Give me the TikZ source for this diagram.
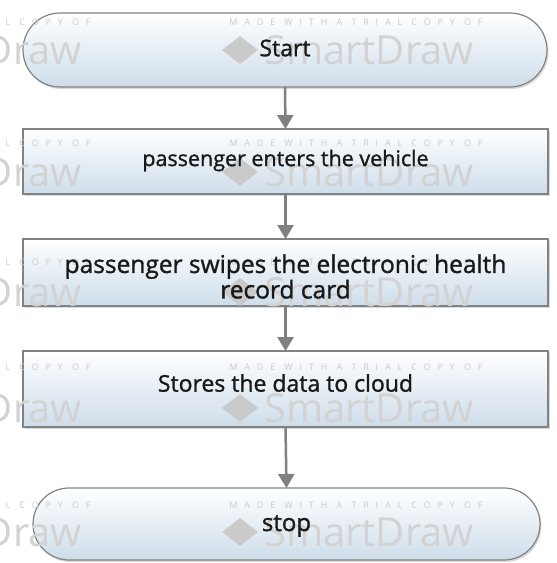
\documentclass[tikz,border=0pt]{standalone}
\usepackage{fontspec}
\setmainfont{Open Sans}
\newfontfamily\wmfont[LetterSpace=76]{Open Sans}
\newfontfamily\labfont[FakeBold=1.2]{Open Sans}
\usetikzlibrary{shadows,arrows.meta}
\definecolor{boxblue}{RGB}{206,221,234}
\definecolor{edgegray}{RGB}{130,130,130}
\definecolor{arrowgray}{RGB}{128,128,128}
\definecolor{wmgray}{RGB}{202,202,202}
\definecolor{txt}{RGB}{25,25,25}
\begin{document}
\begin{tikzpicture}[x=1pt,y=-1pt,
  shapebase/.style={draw=edgegray, line width=1.2pt, top color=white, bottom color=boxblue,
    drop shadow={shadow xshift=1.5pt, shadow yshift=-2pt, opacity=0.3},
    inner sep=0pt, outer sep=0pt},
  terminal/.style={shapebase, minimum height=#1, rounded corners=0.5*#1},
  procbox/.style={shapebase, minimum height=#1},
  label/.style={font=\labfont\fontsize{#1}{24}\selectfont, text=txt, align=center, inner sep=0pt},
  wmsmall/.style={font=\wmfont\fontsize{9}{10}\selectfont, text=wmgray, inner sep=0pt},
  wmbig/.style={font=\fontsize{40}{44}\selectfont, text=wmgray!85, inner sep=0pt},
  conn/.style={draw=arrowgray, line width=2.5pt, -{Triangle[width=16pt,length=14pt]}}
]
\useasboundingbox (0,0) rectangle (557,563);

% shapes
\node[terminal=74pt, minimum width=524pt] (start) at (285,50) {};
\node[procbox=65pt, minimum width=525pt] (enter) at (285.5,161.5) {};
\node[procbox=67pt, minimum width=525pt] (swipe) at (285.5,272.5) {};
\node[procbox=76pt, minimum width=525pt] (store) at (285.5,389) {};
\node[terminal=72pt, minimum width=507pt] (stop) at (286.5,524) {};

% watermark
\begin{scope}
\clip (0,0) rectangle (557,563);
\foreach \ys/\yb in {22/50, 143/172, 262/292, 367/408, 505/532}{
  \foreach \dx in {0,-392}{
    \node[wmsmall] at (356+\dx,\ys) {MADE WITH A TRIAL COPY OF};
    \node[wmbig] at (369+\dx,\yb) {SmartDraw};
    \fill[wmgray] (222+\dx,\yb) -- (240+\dx,\yb-14) -- (258+\dx,\yb) -- (240+\dx,\yb+14) -- cycle;
  }
}
\end{scope}

% labels
\node[label=23] (startL) at ([yshift=2pt]start.center) {Start};
\node[label=21.5] (enterL) at ([yshift=1pt]enter.center) {passenger enters the vehicle};
\node[label=24.5] (swipeL) at ([yshift=-4pt]swipe.center) {passenger swipes the electronic health\\record card};
\node[label=23] (storeL) at ([yshift=6pt]store.center) {Stores the data to cloud};
\node[label=24] (stopL) at ([yshift=-2pt]stop.center) {stop};

% connectors
\draw[conn] (start.south) -- (enter.north);
\draw[conn] (enter.south) -- (swipe.north);
\draw[conn] (swipe.south) -- (store.north);
\draw[conn] (store.south) -- (stop.north);
\end{tikzpicture}
\end{document}
